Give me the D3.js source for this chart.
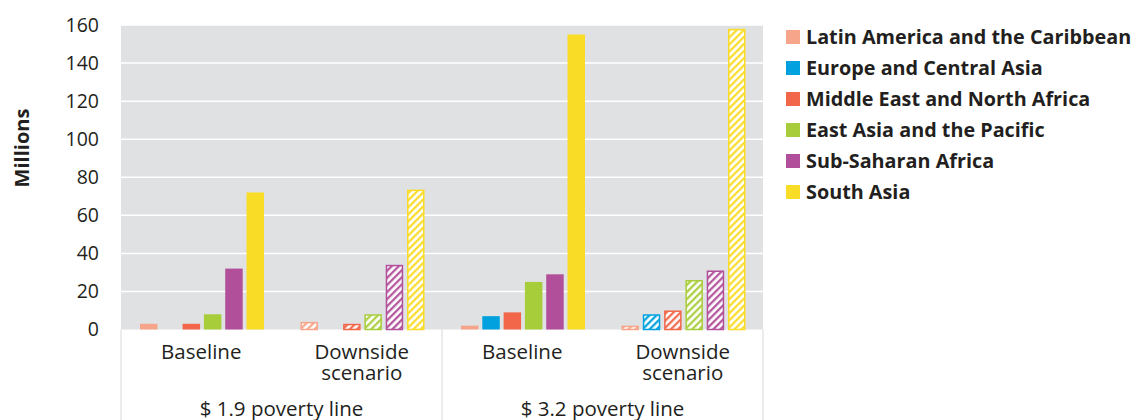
<!DOCTYPE html>
<style>
    body { margin: 0; background: #fff; }
    text { font-family: "Open Sans", Lato, sans-serif; fill: #231f20; }
    .tick text { font-size: 19.5px; }
    .legend text { font-size: 19.8px; font-weight: bold; }
</style>
<svg width="1132" height="420"></svg>
<script src="https://d3js.org/d3.v7.min.js"></script>
<script>
    var regions = ["Latin America and the Caribbean", "Europe and Central Asia", "Middle East and North Africa",
        "East Asia and the Pacific", "Sub-Saharan Africa", "South Asia"];
    var colors = ["#f6a58a", "#00a1de", "#f26649", "#a8cd3a", "#b14f9a", "#f9dc26"];
    var scenarios = ["Baseline", "Downside scenario", "Baseline", "Downside scenario"];
    var povertyLines = ["$ 1.9 poverty line", "$ 3.2 poverty line"];
    var hatched = [false, true, false, true];
    var yTicks = [0, 20, 40, 60, 80, 100, 120, 140, 160];

    // one row per category, values in region order
    var baseline19 = [3, 0, 3, 8, 32, 72];
    var downside19 = [4, 0, 3, 8, 34, 73.5];
    var baseline32 = [2, 7, 9, 25, 29, 155];
    var downside32 = [2, 8, 10, 26, 31, 158];
    var values = [baseline19, downside19, baseline32, downside32];

    var svg = d3.select('svg');
    var pLeft = 121, pRight = 763, pTop = 25, pBottom = 329.5;

    var x = d3.scaleBand().domain(d3.range(4)).range([pLeft, pRight]);
    var xi = d3.scaleBand().domain(regions).range([19, 143]).paddingInner(0.18);
    var y = d3.scaleLinear().domain([0, 160]).range([pBottom, pTop]);

    var defs = svg.append('defs');
    colors.forEach(function(c, i) {
        var p = defs.append('pattern')
            .attr('id', 'hatch' + i)
            .attr('patternUnits', 'userSpaceOnUse')
            .attr('width', 5).attr('height', 5)
            .attr('patternTransform', 'rotate(45)');
        p.append('rect').attr('width', 5).attr('height', 5).attr('fill', '#fff');
        p.append('line').attr('x1', 1.2).attr('x2', 1.2).attr('y1', 0).attr('y2', 5)
            .attr('stroke', c).attr('stroke-width', 2.2);
    });

    // plot background + gridlines
    svg.append('rect').attr('x', pLeft).attr('y', pTop)
        .attr('width', pRight - pLeft).attr('height', pBottom - pTop).attr('fill', '#e0e1e3');

    svg.append('g').selectAll('line').data(yTicks.slice(1)).join('line')
        .attr('x1', pLeft).attr('x2', pRight)
        .attr('y1', function(d) { return y(d); }).attr('y2', function(d) { return y(d); })
        .attr('stroke', '#fff').attr('stroke-width', 1.5);

    // y axis labels
    var yAxis = svg.append('g').attr('transform', 'translate(' + 99 + ',0)')
        .call(d3.axisLeft(y).tickValues(yTicks).tickSize(0).tickPadding(0));
    yAxis.select('.domain').remove();
    yAxis.selectAll('text').attr('fill', '#231f20');
    yAxis.attr('font-family', null).attr('font-size', null);

    svg.append('text')
        .attr('transform', 'translate(29,148) rotate(-90)')
        .attr('text-anchor', 'middle')
        .style('font-size', '20px').style('font-weight', 'bold')
        .text('Millions');

    // bars
    var groups = svg.append('g').selectAll('g').data(values).join('g')
        .attr('transform', function(d, i) { return 'translate(' + x(i) + ',0)'; });

    groups.each(function(vals, gi) {
        var h = hatched[gi];
        d3.select(this).selectAll('rect').data(vals).join('rect')
            .attr('x', function(d, i) { return xi(regions[i]) + (h ? 0.75 : 0); })
            .attr('width', xi.bandwidth() - (h ? 1.5 : 0))
            .attr('y', function(d) { return y(d) + (h ? 0.75 : 0); })
            .attr('height', function(d) { return Math.max(0, pBottom - y(d) - (h ? 0.75 : 0)); })
            .attr('fill', function(d, i) { return h ? 'url(#hatch' + i + ')' : colors[i]; })
            .attr('stroke', function(d, i) { return h && d > 0 ? colors[i] : 'none'; })
            .attr('stroke-width', 1.5);
    });

    // category separators below the plot
    svg.append('g').selectAll('line').data([pLeft, x(2), pRight]).join('line')
        .attr('x1', function(d) { return d; }).attr('x2', function(d) { return d; })
        .attr('y1', pBottom).attr('y2', 420)
        .attr('stroke', '#d9d9d9').attr('stroke-width', 1);

    // category labels
    svg.append('g').selectAll('text').data(scenarios).join('text')
        .attr('x', function(d, i) { return x(i) + x.bandwidth() / 2; })
        .attr('y', 359)
        .attr('text-anchor', 'middle')
        .style('font-size', '20.5px')
        .each(function(d) {
            var parts = d.split(' ');
            var t = d3.select(this);
            parts.forEach(function(p, k) {
                t.append('tspan').attr('x', t.attr('x')).attr('dy', k ? 21 : 0).text(p);
            });
        });

    svg.append('g').selectAll('text').data(povertyLines).join('text')
        .attr('x', function(d, i) { return x(i * 2) + x.bandwidth(); })
        .attr('y', 416)
        .attr('text-anchor', 'middle')
        .style('font-size', '20.5px')
        .text(function(d) { return d; });

    // legend
    var legend = svg.append('g').attr('class', 'legend')
        .selectAll('g').data(regions).join('g')
        .attr('transform', function(d, i) { return 'translate(786,' + (37 + i * 31) + ')'; });
    legend.append('rect').attr('x', 0).attr('y', -7).attr('width', 14).attr('height', 14)
        .attr('fill', function(d, i) { return colors[i]; });
    legend.append('text').attr('x', 20).attr('dy', '0.36em').text(function(d) { return d; });
</script>
